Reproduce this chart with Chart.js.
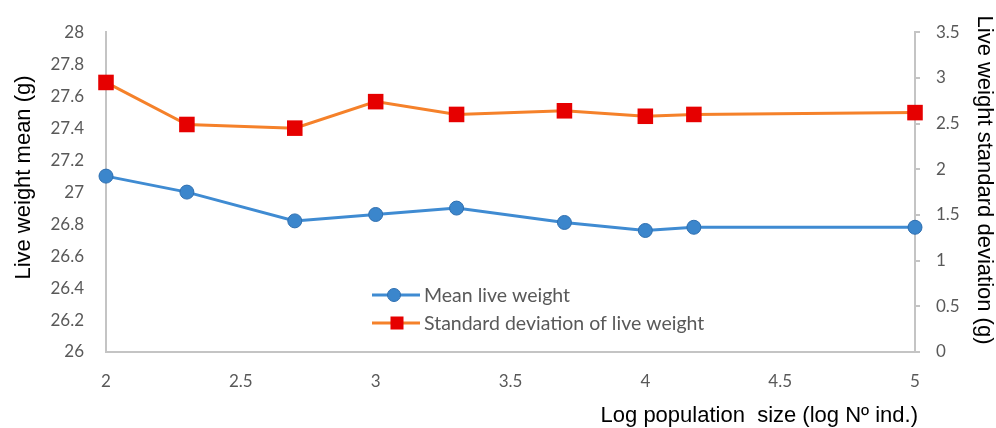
<!DOCTYPE html>
<html>
<head>
<meta charset="utf-8">
<script src="https://cdn.jsdelivr.net/npm/chart.js@4/dist/chart.umd.min.js"></script>
<style>
  html, body { margin: 0; padding: 0; background: #ffffff; }
  #wrap { width: 996px; height: 428px; position: relative; }
</style>
</head>
<body>
<div id="wrap"><canvas id="c" width="996" height="428"></canvas></div>
<script>
// ---- data ----
const logSize    = [2, 2.3, 2.7, 3, 3.3, 3.7, 4, 4.18, 5];
const meanWeight = [27.10, 27.00, 26.82, 26.86, 26.90, 26.81, 26.76, 26.78, 26.78];
const sdWeight   = [2.95, 2.49, 2.45, 2.74, 2.60, 2.64, 2.58, 2.60, 2.62];
const seriesNames = ['Mean live weight', 'Standard deviation of live weight'];
const xTitle  = 'Log population  size (log N\u00BA ind.)';
const yTitle  = 'Live weight mean (g)';
const y2Title = 'Live weight standard deviation (g)';

const tickFont = { family: 'Lato, "Open Sans", sans-serif', size: 17 };
const titleFamily = '"Liberation Sans", Arial, sans-serif';
const tickColor = '#595959';
const axisColor = '#c4c4c4';

const blueLine = '#3f8bd2', blueFill = '#3b86cc', blueEdge = '#2f6fb0';
const orangeLine = '#f5812a', redFill = '#e60000';

const toPts = (ys) => logSize.map((x, i) => ({ x: x, y: ys[i] }));
const fmt = (v) => String(Math.round(v * 100) / 100);

const titlesAndLegend = {
  id: 'titlesAndLegend',
  afterDraw(chart) {
    const ctx = chart.ctx;
    const xs = chart.scales.x;
    ctx.save();
    ctx.fillStyle = '#000';
    ctx.font = '22px ' + titleFamily;
    // x title
    ctx.textAlign = 'right';
    ctx.textBaseline = 'alphabetic';
    ctx.fillText(xTitle, xs.right + 3, 422);
    // left y title
    ctx.save();
    ctx.translate(30, 177.5);
    ctx.rotate(-Math.PI / 2);
    ctx.textAlign = 'center';
    ctx.fillText(yTitle, 0, 0);
    ctx.restore();
    // right y title
    ctx.save();
    ctx.translate(978, 180);
    ctx.rotate(Math.PI / 2);
    ctx.textAlign = 'center';
    ctx.fillText(y2Title, 0, 0);
    ctx.restore();

    // legend (inside plot area)
    const rows = [
      { y: 295, ds: chart.data.datasets[0], text: seriesNames[0], mx: 394 },
      { y: 323, ds: chart.data.datasets[1], text: seriesNames[1], mx: 397 }
    ];
    ctx.font = '19.5px ' + tickFont.family;
    ctx.textAlign = 'left';
    ctx.textBaseline = 'middle';
    rows.forEach((r, i) => {
      ctx.strokeStyle = r.ds.borderColor;
      ctx.lineWidth = 3;
      ctx.beginPath();
      ctx.moveTo(372, r.y);
      ctx.lineTo(420, r.y);
      ctx.stroke();
      ctx.fillStyle = r.ds.pointBackgroundColor;
      if (i === 0) {
        ctx.beginPath();
        ctx.arc(r.mx, r.y, 6.5, 0, Math.PI * 2);
        ctx.fill();
        ctx.strokeStyle = r.ds.pointBorderColor;
        ctx.lineWidth = 1;
        ctx.stroke();
      } else {
        ctx.fillRect(r.mx - 6.5, r.y - 6.5, 13, 13);
      }
      ctx.fillStyle = tickColor;
      ctx.fillText(r.text, 424, r.y + 1);
    });
    ctx.restore();
  }
};

new Chart(document.getElementById('c'), {
  type: 'line',
  data: {
    datasets: [
      {
        label: seriesNames[0],
        data: toPts(meanWeight),
        yAxisID: 'y',
        borderColor: blueLine,
        borderWidth: 3,
        pointStyle: 'circle',
        pointRadius: 7,
        pointBackgroundColor: blueFill,
        pointBorderColor: blueEdge,
        pointBorderWidth: 1,
        tension: 0,
        clip: false
      },
      {
        label: seriesNames[1],
        data: toPts(sdWeight),
        yAxisID: 'y2',
        borderColor: orangeLine,
        borderWidth: 3,
        pointStyle: 'rect',
        pointRadius: 11,
        pointBackgroundColor: redFill,
        pointBorderColor: redFill,
        pointBorderWidth: 0,
        tension: 0,
        clip: false
      }
    ]
  },
  options: {
    responsive: false,
    animation: false,
    devicePixelRatio: 1,
    layout: { padding: { top: 30, left: 0, right: 0, bottom: 0 } },
    plugins: { legend: { display: false }, tooltip: { enabled: false } },
    scales: {
      x: {
        type: 'linear', position: 'bottom', min: 2, max: 5,
        ticks: { stepSize: 0.5, font: tickFont, color: tickColor, padding: 19, maxRotation: 0, callback: fmt },
        grid: { display: false, drawTicks: false },
        border: { display: true, color: axisColor, width: 2 },
        afterFit(s) { s.height = 76; }
      },
      y: {
        type: 'linear', position: 'left', min: 26, max: 28,
        ticks: { stepSize: 0.2, font: tickFont, color: tickColor, padding: 22, callback: fmt },
        grid: { display: false, drawTicks: false },
        border: { display: true, color: axisColor, width: 2 },
        afterFit(s) { s.width = 106; }
      },
      y2: {
        type: 'linear', position: 'right', min: 0, max: 3.5,
        ticks: { stepSize: 0.5, font: tickFont, color: tickColor, padding: 16, callback: fmt },
        grid: { display: true, drawOnChartArea: false, drawTicks: true, tickLength: 5, color: axisColor, lineWidth: 2 },
        border: { display: true, color: axisColor, width: 2 },
        afterFit(s) { s.width = 81; }
      }
    }
  },
  plugins: [titlesAndLegend]
});
</script>
</body>
</html>
